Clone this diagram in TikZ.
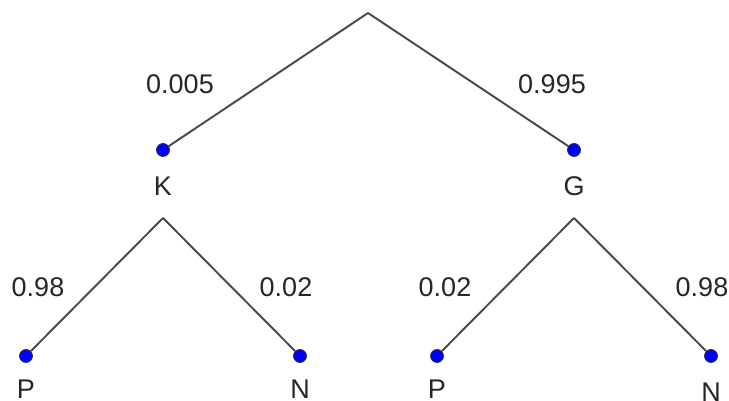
\documentclass[tikz,border=0pt]{standalone}
\usepackage{fontspec}
\setmainfont{Liberation Sans}
\usetikzlibrary{positioning}

\begin{document}
\begin{tikzpicture}[x=1pt,y=1pt,auto]
\tikzstyle{every node}=[text=black!85,font=\fontsize{27}{32}\selectfont]
\tikzstyle{bluedot}=[circle,fill=blue,draw=black!80,line width=0.8pt,inner sep=0pt,minimum size=13pt]
\tikzstyle{leaflabel}=[inner sep=0pt]
\tikzstyle{branch}=[draw=black!72,line width=1.9pt]
\useasboundingbox (0,0) rectangle (729,401);

\coordinate (R)  at (368,388);
\coordinate (KA) at (163,183);
\coordinate (GA) at (574,183);

\node[bluedot]	(K)  at (163,251) {};
\node[bluedot]	(G)  at (574,251) {};
\node[bluedot]	(KP) at (26,45) {};
\node[bluedot]	(KN) at (300,45) {};
\node[bluedot]	(GP) at (437,45) {};
\node[bluedot]	(GN) at (711,45) {};

\path[branch]
(R) edge (K)
(R) edge (G)
(KA) edge (KP)
(KA) edge (KN)
(GA) edge (GP)
(GA) edge (GN)
;

\node (Klab)  [below of=K,node distance=36pt] {K};
\node (Glab)  [below of=G,node distance=36pt] {G};
\node[leaflabel] (KPlab) [below of=KP,node distance=33pt] {P};
\node[leaflabel] (KNlab) [below of=KN,node distance=33pt] {N};
\node[leaflabel] (GPlab) [below of=GP,node distance=33pt] {P};
\node[leaflabel] (GNlab) [below of=GN,node distance=36pt] {N};

\node (pK)  at (180,317) {0.005};
\node (pG)  at (552,317) {0.995};
\node (pKP) at (38,114)  {0.98};
\node (pKN) at (286,114) {0.02};
\node (pGP) at (445,114) {0.02};
\node (pGN) at (702,114) {0.98};
\end{tikzpicture}
\end{document}
